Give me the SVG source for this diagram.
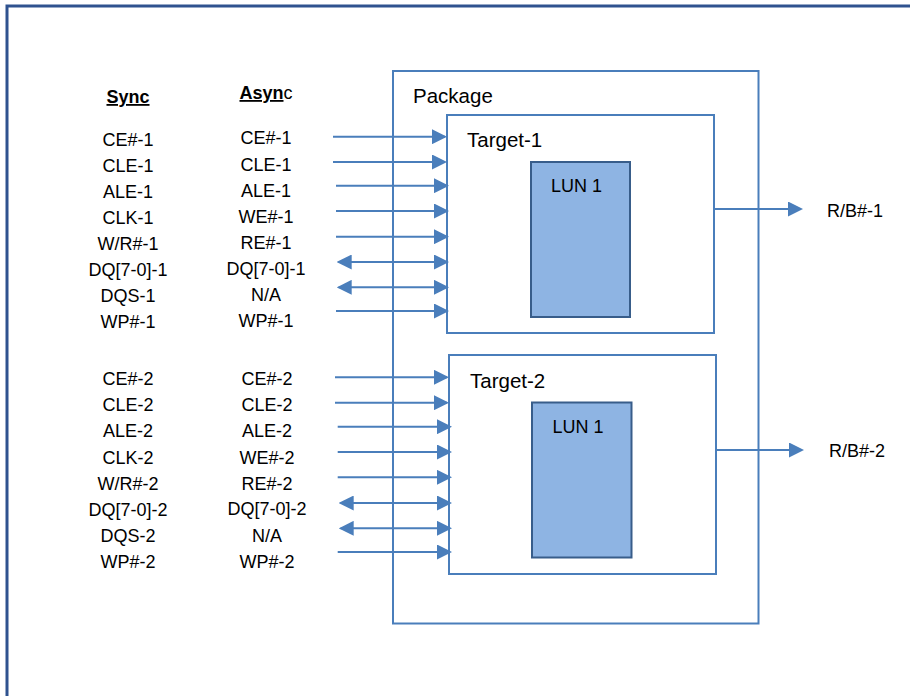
<svg xmlns="http://www.w3.org/2000/svg" width="910" height="696" viewBox="0 0 910 696">
<defs>
<style>
.frame{fill:none;stroke:#2F528F;stroke-width:3}
.box{fill:#ffffff;stroke:#4A7EBB;stroke-width:2}
.lun{fill:#8EB4E3;stroke:#385D8A;stroke-width:2}
.wire{stroke:#4A7EBB;stroke-width:2;fill:none}
.t{font-family:"Liberation Sans",Arial,sans-serif;font-size:18px;fill:#000}
.c{text-anchor:middle}
.big{font-size:20.5px}
.hd{font-weight:bold;text-decoration:underline}
</style>
<marker id="ah" markerUnits="userSpaceOnUse" markerWidth="15" markerHeight="15" refX="13" refY="7.5" orient="auto-start-reverse" viewBox="0 0 15 15">
<path d="M0,0 L15,7.5 L0,15 z" fill="#4A7EBB"/>
</marker>
</defs>
<rect width="910" height="696" fill="#ffffff"/>
<rect class="frame" x="7" y="6" width="1000" height="1000"/>

<g id="package">
<rect class="box" x="393" y="71" width="365.5" height="552.5"/>
<text class="t big" x="413" y="103">Package</text>
</g>
<g id="target-1">
<rect class="box" x="447" y="115" width="267" height="218"/>
<text class="t big" x="467" y="147">Target-1</text>
</g>
<g id="lun-1a">
<rect class="lun" x="531" y="162" width="99" height="155"/>
<text class="t" x="551" y="192">LUN 1</text>
</g>
<g id="target-2">
<rect class="box" x="449" y="355" width="267" height="219"/>
<text class="t big" x="470" y="388">Target-2</text>
</g>
<g id="lun-1b">
<rect class="lun" x="532" y="402.5" width="99.5" height="155"/>
<text class="t" x="552.5" y="433">LUN 1</text>
</g>

<g id="sync-labels" class="t c">
<text x="128" y="103" class="hd">Sync</text>
<text x="128" y="146">CE#-1</text>
<text x="128" y="172">CLE-1</text>
<text x="128" y="198">ALE-1</text>
<text x="128" y="224">CLK-1</text>
<text x="128" y="250">W/R#-1</text>
<text x="128" y="276">DQ[7-0]-1</text>
<text x="128" y="302">DQS-1</text>
<text x="128" y="328">WP#-1</text>
<text x="128" y="385">CE#-2</text>
<text x="128" y="411">CLE-2</text>
<text x="128" y="437">ALE-2</text>
<text x="128" y="464">CLK-2</text>
<text x="128" y="490">W/R#-2</text>
<text x="128" y="516">DQ[7-0]-2</text>
<text x="128" y="542">DQS-2</text>
<text x="128" y="568">WP#-2</text>
</g>
<g id="async-labels" class="t c">
<text x="266" y="99"><tspan class="hd">Asyn</tspan>c</text>
<text x="266" y="144">CE#-1</text>
<text x="266" y="171">CLE-1</text>
<text x="266" y="197">ALE-1</text>
<text x="266" y="223">WE#-1</text>
<text x="266" y="249">RE#-1</text>
<text x="266" y="275">DQ[7-0]-1</text>
<text x="266" y="301">N/A</text>
<text x="266" y="327">WP#-1</text>
<text x="267" y="385">CE#-2</text>
<text x="267" y="411">CLE-2</text>
<text x="267" y="437">ALE-2</text>
<text x="267" y="464">WE#-2</text>
<text x="267" y="490">RE#-2</text>
<text x="267" y="515">DQ[7-0]-2</text>
<text x="267" y="542">N/A</text>
<text x="267" y="568">WP#-2</text>
</g>
<g id="rb-labels" class="t">
<text x="827" y="217">R/B#-1</text>
<text x="829" y="457">R/B#-2</text>
</g>

<g id="connectors" class="wire">
<line x1="333" y1="136.7" x2="445" y2="136.7" marker-end="url(#ah)"/>
<line x1="333" y1="162" x2="445" y2="162" marker-end="url(#ah)"/>
<line x1="336" y1="185.7" x2="447" y2="185.7" marker-end="url(#ah)"/>
<line x1="336" y1="211" x2="447" y2="211" marker-end="url(#ah)"/>
<line x1="336" y1="236.7" x2="447" y2="236.7" marker-end="url(#ah)"/>
<line x1="338.7" y1="262" x2="447" y2="262" marker-start="url(#ah)" marker-end="url(#ah)"/>
<line x1="338.7" y1="287.3" x2="447" y2="287.3" marker-start="url(#ah)" marker-end="url(#ah)"/>
<line x1="336" y1="311" x2="447" y2="311" marker-end="url(#ah)"/>
<line x1="335" y1="377.3" x2="447" y2="377.3" marker-end="url(#ah)"/>
<line x1="335" y1="402.7" x2="447" y2="402.7" marker-end="url(#ah)"/>
<line x1="337.7" y1="426.7" x2="450" y2="426.7" marker-end="url(#ah)"/>
<line x1="337.7" y1="452" x2="450" y2="452" marker-end="url(#ah)"/>
<line x1="337.7" y1="477.3" x2="450" y2="477.3" marker-end="url(#ah)"/>
<line x1="340.7" y1="503" x2="450" y2="503" marker-start="url(#ah)" marker-end="url(#ah)"/>
<line x1="340.7" y1="528.3" x2="450" y2="528.3" marker-start="url(#ah)" marker-end="url(#ah)"/>
<line x1="337.7" y1="552" x2="450" y2="552" marker-end="url(#ah)"/>
<line x1="714" y1="209" x2="801" y2="209" marker-end="url(#ah)"/>
<line x1="716" y1="450" x2="802" y2="450" marker-end="url(#ah)"/>
</g>
</svg>
